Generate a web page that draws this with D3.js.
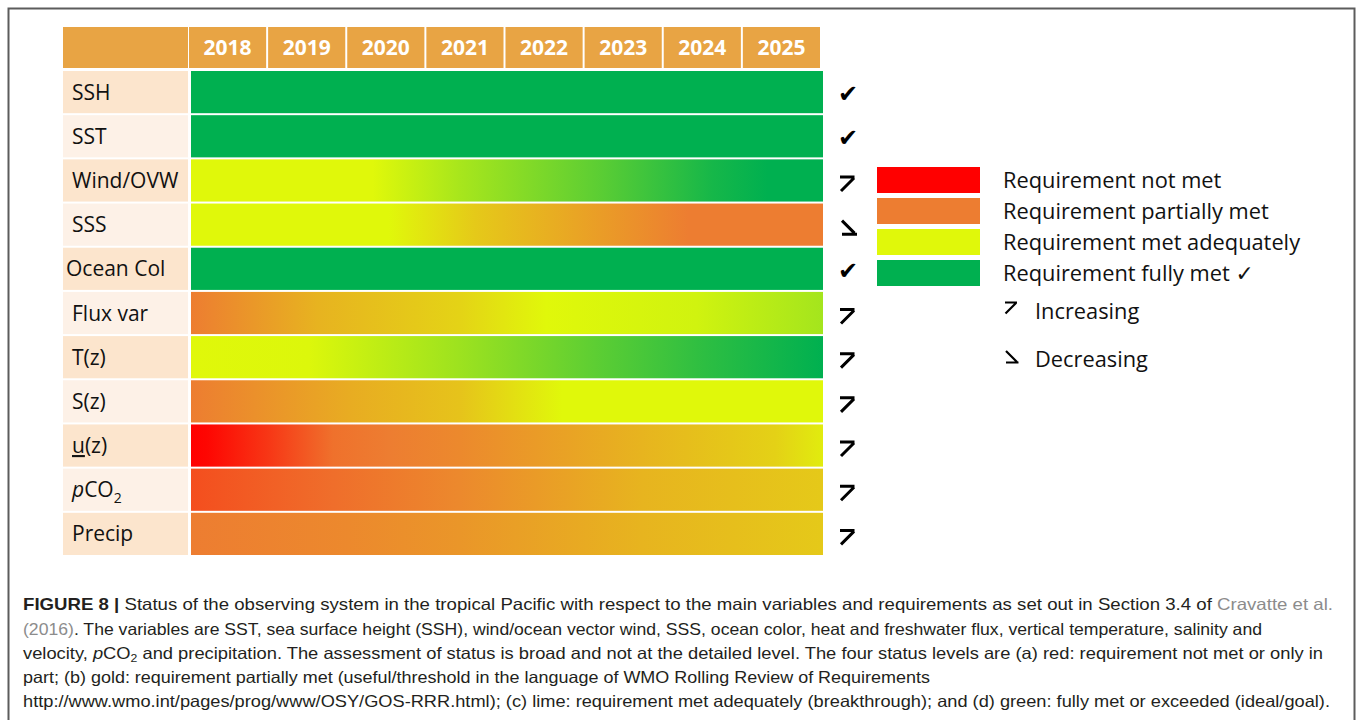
<!DOCTYPE html>
<html>
<head>
<meta charset="utf-8">
<script src="https://cdn.jsdelivr.net/npm/d3@7"></script>
<style>
  html, body { margin: 0; padding: 0; background: #fff; }
  svg { display: block; }
</style>
</head>
<body>
<svg id="chart" width="1357" height="720"></svg>
<script>
// ---------------- DATA ----------------
const years = [2018, 2019, 2020, 2021, 2022, 2023, 2024, 2025];
const variables = ["SSH", "SST", "Wind/OVW", "SSS", "Ocean Col", "Flux var", "T(z)", "S(z)", "u(z)", "pCO2", "Precip"];
// status level along time: 0 = not met (red), 1 = partially met (orange), 2 = met adequately (lime), 3 = fully met (green)
// each entry: [time position (year), level]
const statusSSH    = [[2018, 3], [2026, 3]];
const statusSST    = [[2018, 3], [2026, 3]];
const statusWind   = [[2018, 2], [2020.3, 2], [2021.4, 2.25], [2023.2, 2.6], [2024.6, 2.9], [2025.3, 3], [2026, 3]];
const statusSSS    = [[2018, 2], [2020.5, 2], [2021.6, 1.62], [2023.2, 1.25], [2024.3, 1], [2026, 1]];
const statusOcean  = [[2018, 3], [2026, 3]];
const statusFlux   = [[2018, 1], [2019.6, 1.44], [2021.4, 1.7], [2022.5, 2], [2024.4, 2.07], [2026, 2.27]];
const statusTz     = [[2018, 2], [2019.5, 2.02], [2021.4, 2.3], [2023.2, 2.6], [2024.5, 2.8], [2026, 3]];
const statusSz     = [[2018, 1], [2020, 1.38], [2021.4, 1.57], [2022.7, 2], [2026, 2]];
const statusUz     = [[2018, 0], [2018.2, 0.05], [2019, 0.45], [2019.8, 0.9], [2020.5, 1], [2021.4, 1.1], [2023.7, 1.45], [2025.4, 1.68], [2026, 1.9]];
const statusPCO2   = [[2018, 0.62], [2019.8, 0.88], [2021.4, 1.1], [2023.7, 1.45], [2026, 1.62]];
const statusPrecip = [[2018, 1], [2020, 1.1], [2021.4, 1.2], [2023.7, 1.45], [2026, 1.62]];
const statusRows = [statusSSH, statusSST, statusWind, statusSSS, statusOcean, statusFlux, statusTz, statusSz, statusUz, statusPCO2, statusPrecip];
// trend mark: "check" fully met, "up" increasing, "down" decreasing
const trends = ["check", "check", "up", "down", "check", "up", "up", "up", "up", "up", "up"];
const levelNames = ["Requirement not met", "Requirement partially met", "Requirement met adequately", "Requirement fully met \u2713"];
const levelColors = ["#ff0000", "#ed7d31", "#e0f80a", "#00b050"];
const trendNames = ["Increasing", "Decreasing"];

// ---------------- CHART ----------------
const svg = d3.select("#chart");
const FONT = "'Open Sans', 'DejaVu Sans', sans-serif";

// frame
svg.append("rect").attr("x", 8.5).attr("y", 8.5).attr("width", 1346).attr("height", 760)
  .attr("fill", "none").attr("stroke", "#5c5c5c").attr("stroke-width", 2);

const level = d3.scaleLinear().domain([0, 1, 2, 3]).range(levelColors).interpolate(d3.interpolateRgb);
const xHead = d3.scaleBand().domain(years).range([189, 820]).paddingInner(0.025);
const xTime = d3.scaleLinear().domain([2018, 2026]).range([191, 823]);
const y = d3.scaleBand().domain(variables).range([71, 71 + 11 * 44]).paddingInner(0.045).paddingOuter(0);

// header
svg.append("rect").attr("x", 63).attr("y", 27).attr("width", 125).attr("height", 41).attr("fill", "#e8a444");
const head = svg.append("g");
head.selectAll("rect").data(years).join("rect")
  .attr("x", d => xHead(d)).attr("y", 27).attr("width", xHead.bandwidth()).attr("height", 41)
  .attr("fill", "#e8a444");
head.selectAll("text").data(years).join("text")
  .attr("x", d => xHead(d) + xHead.bandwidth() / 2).attr("y", 54.5)
  .attr("text-anchor", "middle").attr("font-family", FONT).attr("font-weight", "bold")
  .attr("font-size", 21).attr("fill", "#fff").text(d => d);

// gradients
const defs = svg.append("defs");
variables.forEach((v, i) => {
  const g = defs.append("linearGradient").attr("id", "grad" + i)
    .attr("gradientUnits", "userSpaceOnUse")
    .attr("x1", xTime(2018)).attr("x2", xTime(2026)).attr("y1", 0).attr("y2", 0);
  g.selectAll("stop").data(statusRows[i]).join("stop")
    .attr("offset", d => (xTime(d[0]) - xTime(2018)) / (xTime(2026) - xTime(2018)))
    .attr("stop-color", d => level(d[1]));
});

// row label cells
const rows = svg.append("g");
rows.selectAll("rect.lab").data(variables).join("rect").attr("class", "lab")
  .attr("x", 63).attr("y", d => y(d)).attr("width", 125).attr("height", y.bandwidth())
  .attr("fill", (d, i) => i % 2 === 0 ? "#fce5cd" : "#fdf1e7");

rows.selectAll("rect.bar").data(variables).join("rect").attr("class", "bar")
  .attr("x", xTime(2018)).attr("y", d => y(d)).attr("width", xTime(2026) - xTime(2018))
  .attr("height", y.bandwidth()).attr("fill", (d, i) => `url(#grad${i})`);

// row labels
const labels = rows.selectAll("text.lab").data(variables).join("text").attr("class", "lab")
  .attr("x", d => d === "Ocean Col" ? 66 : 72).attr("y", d => y(d) + y.bandwidth() / 2 + 7.5)
  .attr("font-family", FONT).attr("font-size", 21).attr("fill", "#111");
labels.each(function (d) {
  const t = d3.select(this);
  if (d === "pCO2") {
    t.append("tspan").attr("font-style", "italic").text("p");
    t.append("tspan").text("CO");
    t.append("tspan").attr("font-size", 14).attr("dy", 6).text("2");
  } else if (d === "u(z)") {
    t.append("tspan").attr("text-decoration", "underline").text("u");
    t.append("tspan").text("(z)");
  } else {
    t.text(d);
  }
});

// trend marks
const mk = svg.append("g");
variables.forEach((v, i) => {
  const cx = 848, cy = y(v) + y.bandwidth() / 2 + 3;
  if (trends[i] === "check") {
    mk.append("text").attr("x", cx).attr("y", cy + 7).attr("text-anchor", "middle")
      .attr("font-family", "'DejaVu Sans', sans-serif")
      .attr("font-size", 24).attr("fill", "#000").text("\u2714");
  } else if (trends[i] === "up") {
    mk.append("path").attr("d", `M${cx - 8},${cy - 6.5} H${cx + 6.5} M${cx - 7},${cy + 7.5} L${cx + 6},${cy - 5.5}`)
      .attr("stroke", "#000").attr("stroke-width", 3).attr("fill", "none");
  } else {
    mk.append("path").attr("d", `M${cx - 6},${cy - 7} L${cx + 6.5},${cy + 5.5} M${cx - 6},${cy + 6.5} H${cx + 9}`)
      .attr("stroke", "#000").attr("stroke-width", 3).attr("fill", "none");
  }
});

// legend
const leg = svg.append("g");
levelColors.forEach((c, i) => {
  const ly = 167 + i * 31;
  leg.append("rect").attr("x", 877).attr("y", ly).attr("width", 103).attr("height", 26).attr("fill", c);
  leg.append("text").attr("x", 1003).attr("y", ly + 20.5).attr("font-family", FONT)
    .attr("font-size", 21.8).attr("fill", "#111").text(levelNames[i]);
});
// increasing / decreasing
leg.append("path").attr("d", "M1005,302.5 H1017 M1005.5,313.5 L1016,303")
  .attr("stroke", "#000").attr("stroke-width", 2.2).attr("fill", "none");
leg.append("text").attr("x", 1035).attr("y", 318.5).attr("font-family", FONT)
  .attr("font-size", 21.8).attr("fill", "#111").text(trendNames[0]);
leg.append("path").attr("d", "M1006,351 L1017,362 M1006,362.5 H1018.5")
  .attr("stroke", "#000").attr("stroke-width", 2.2).attr("fill", "none");
leg.append("text").attr("x", 1035).attr("y", 366.5).attr("font-family", FONT)
  .attr("font-size", 21.8).attr("fill", "#111").text(trendNames[1]);

// caption
const CAP = "'Liberation Sans', Arial, sans-serif";
const capColor = "#231f20", linkColor = "#8c8c8c";
const capLines = [
  { y: 610, len: 1310, parts: [["FIGURE 8 |", "b"], [" Status of the observing system in the tropical Pacific with respect to the main variables and requirements as set out in Section 3.4 of ", ""], ["Cravatte et al.", "link"]] },
  { y: 635, len: 1239, parts: [["(2016)", "link"], [". The variables are SST, sea surface height (SSH), wind/ocean vector wind, SSS, ocean color, heat and freshwater flux, vertical temperature, salinity and", ""]] },
  { y: 659, len: 1300, parts: [["velocity, ", ""], ["p", "i"], ["CO", ""], ["2", "sub"], [" and precipitation. The assessment of status is broad and not at the detailed level. The four status levels are (a) red: requirement not met or only in", "after"]] },
  { y: 683, len: 907, parts: [["part; (b) gold: requirement partially met (useful/threshold in the language of WMO Rolling Review of Requirements", ""]] },
  { y: 707, len: 1307, parts: [["http://www.wmo.int/pages/prog/www/OSY/GOS-RRR.html); (c) lime: requirement met adequately (breakthrough); and (d) green: fully met or exceeded (ideal/goal).", ""]] }
];
const cap = svg.append("g");
capLines.forEach(L => {
  const t = cap.append("text").attr("x", 23).attr("y", L.y).attr("font-family", CAP)
    .attr("font-size", 16.5).attr("fill", capColor)
    .attr("textLength", L.len).attr("lengthAdjust", "spacingAndGlyphs");
  L.parts.forEach(([s, k]) => {
    const ts = t.append("tspan").text(s);
    if (k === "b") ts.attr("font-weight", "bold");
    if (k === "link") ts.attr("fill", linkColor);
    if (k === "i") ts.attr("font-style", "italic");
    if (k === "sub") ts.attr("font-size", 11).attr("dy", 3);
    if (k === "after") ts.attr("dy", -3);
  });
});
</script>
</body>
</html>
